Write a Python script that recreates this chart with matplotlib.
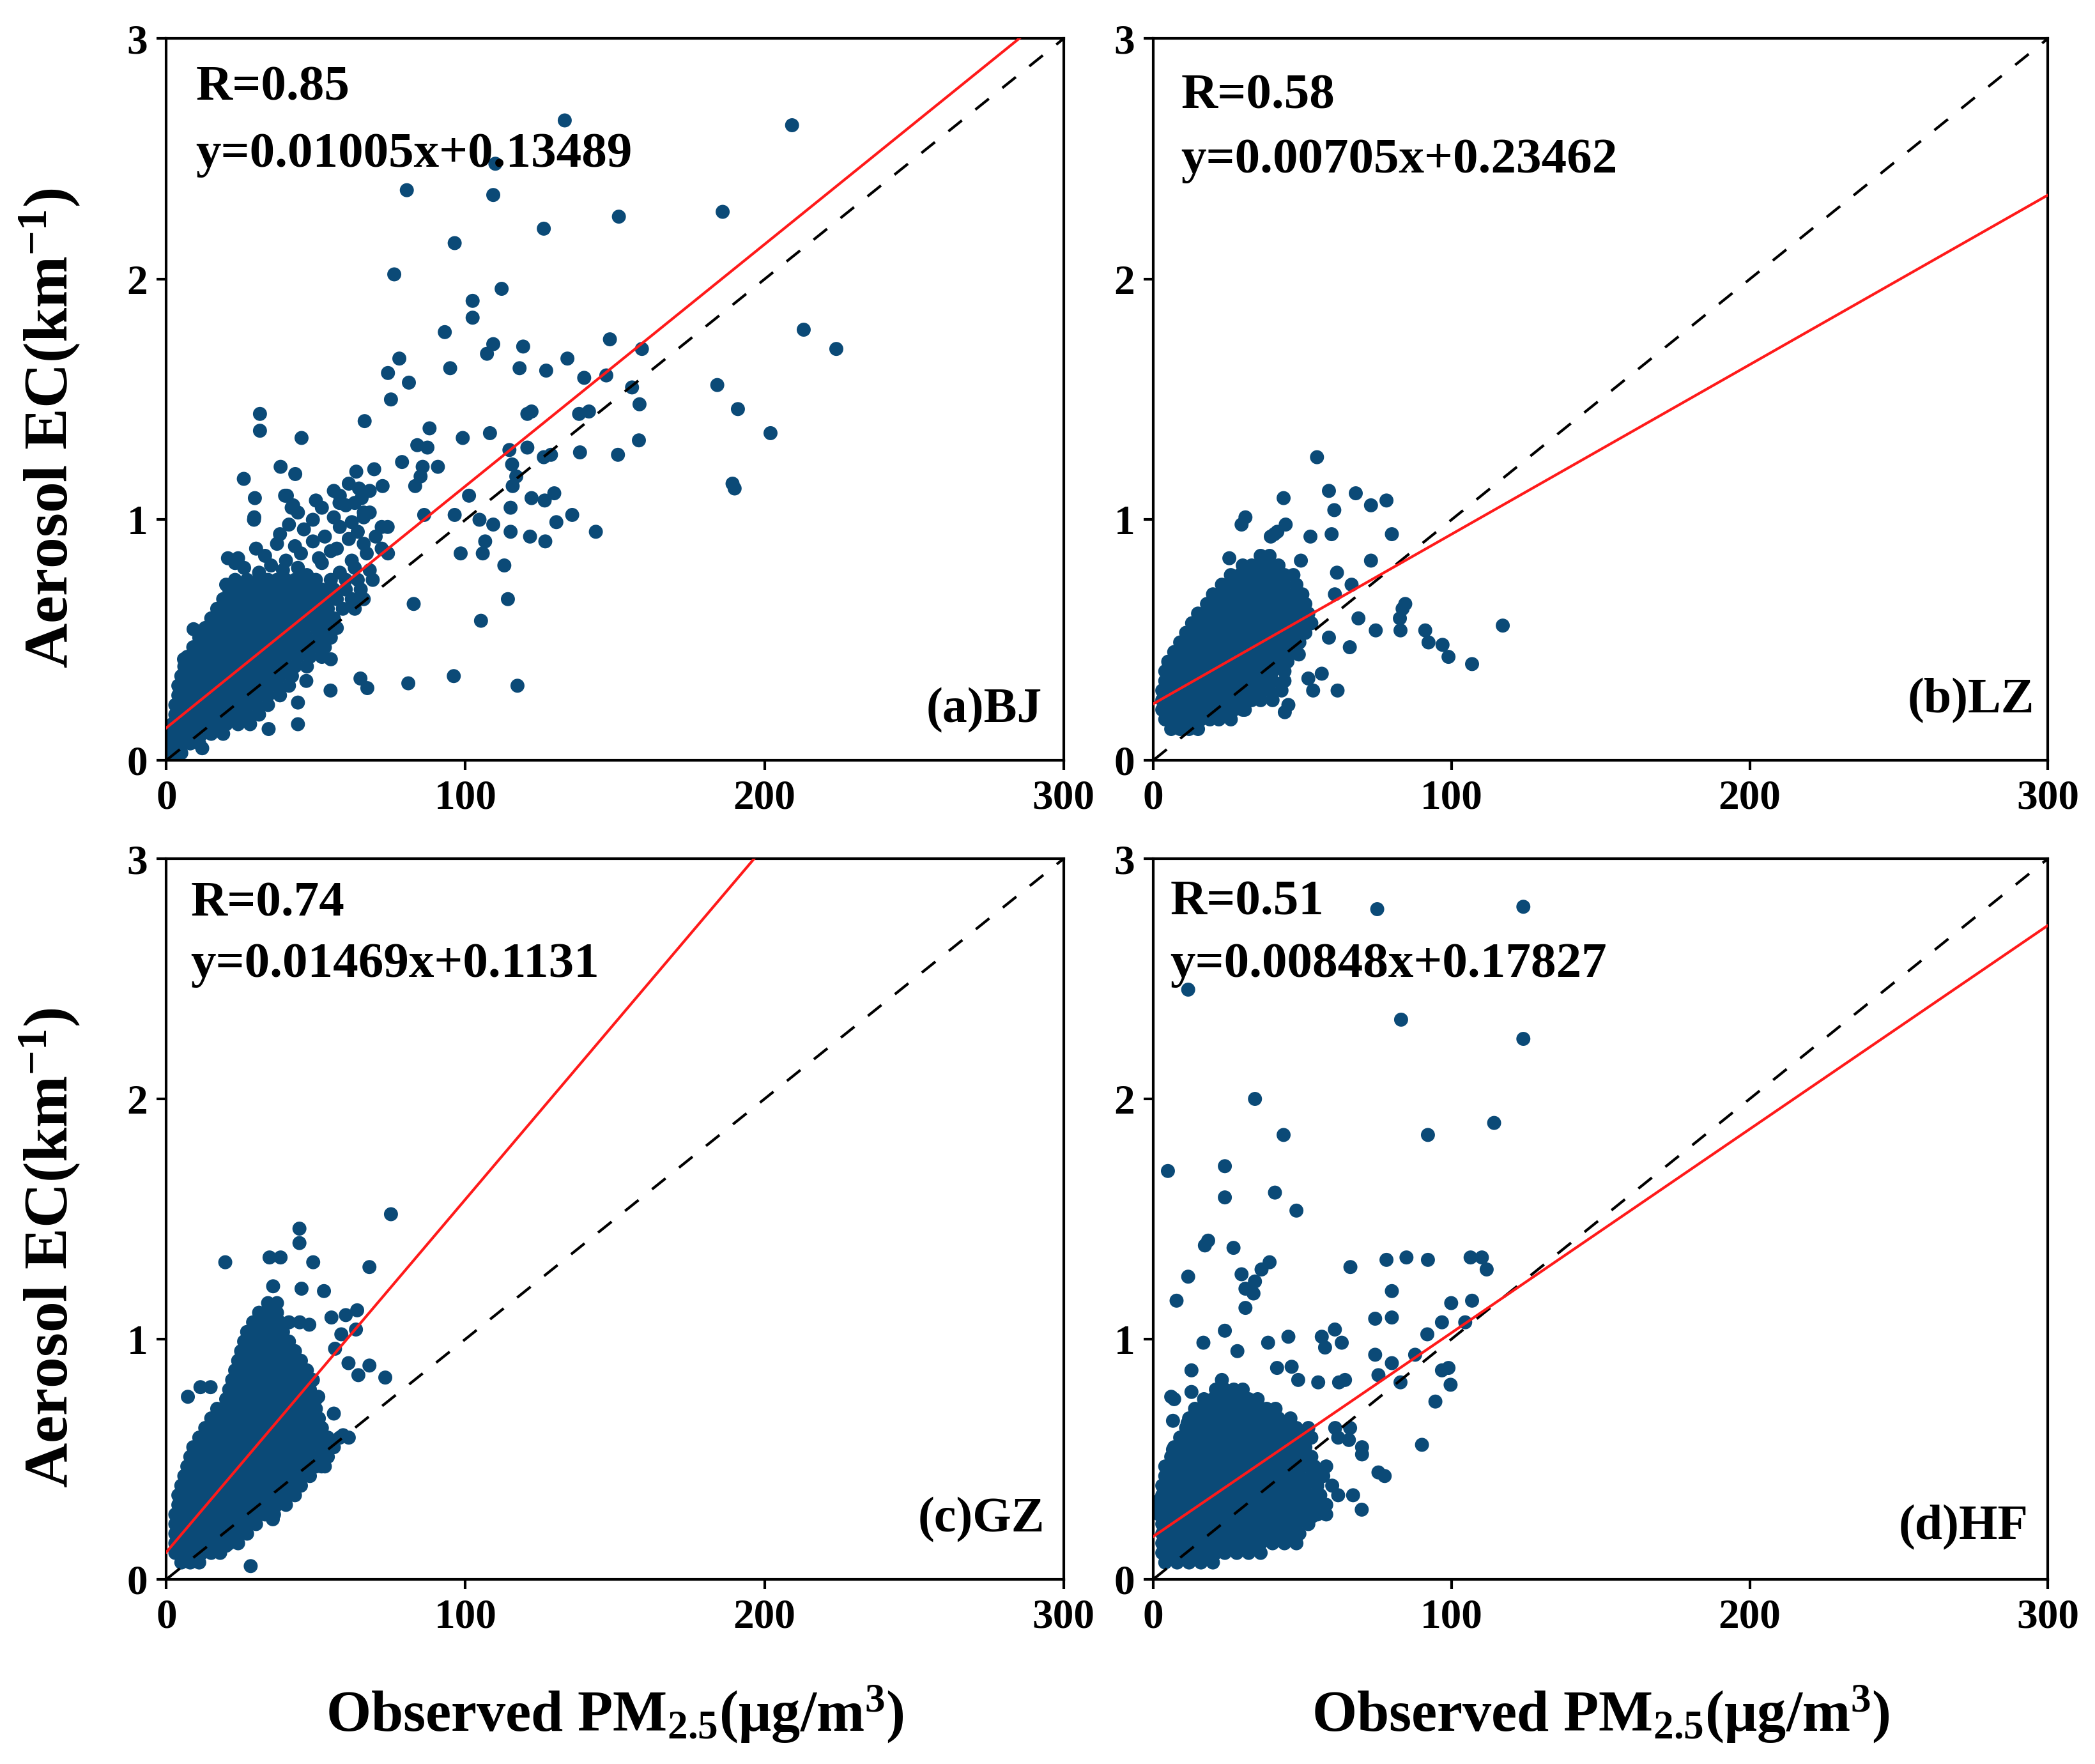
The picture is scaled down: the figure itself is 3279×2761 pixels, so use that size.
import matplotlib
matplotlib.use("Agg")
import matplotlib.pyplot as plt

plt.rcParams['font.family'] = ['Liberation Serif', 'DejaVu Serif']
plt.rcParams['font.weight'] = 'bold'
plt.rcParams['mathtext.fontset'] = 'custom'
plt.rcParams['mathtext.rm'] = 'Liberation Serif:bold'
plt.rcParams['mathtext.it'] = 'Liberation Serif:bold'
plt.rcParams['mathtext.bf'] = 'Liberation Serif:bold'

# ---------------- data ----------------
sites = ["(a)BJ", "(b)LZ", "(c)GZ", "(d)HF"]
r_vals = ["0.85", "0.58", "0.74", "0.51"]
slopes = [0.01005, 0.00705, 0.01469, 0.00848]
intercepts = [0.13489, 0.23462, 0.1131, 0.17827]
eq_txt = ["y=0.01005x+0.13489", "y=0.00705x+0.23462",
          "y=0.01469x+0.1131", "y=0.00848x+0.17827"]

# dense cloud of each site: (EC value, [PM2.5 values])
bj_rows = [
    (0.03, [1, 3, 5]),
    (0.07, [1, 3, 5, 8, 11]),
    (0.11, [2, 4, 6, 9, 12, 15, 19]),
    (0.15, [2, 5, 8, 11, 14, 17, 20, 24, 28]),
    (0.19, [3, 6, 9, 12, 15, 18, 21, 24, 27, 31]),
    (0.23, [3, 6, 9, 12, 15, 18, 21, 24, 27, 30, 34]),
    (0.27, [4, 7, 10, 13, 16, 19, 22, 25, 28, 31, 34, 38]),
    (0.31, [4, 7, 10, 13, 16, 19, 22, 25, 28, 31, 34, 37, 41]),
    (0.35, [5, 8, 11, 14, 17, 20, 23, 26, 29, 32, 35, 38, 42]),
    (0.39, [6, 9, 12, 15, 18, 21, 24, 27, 30, 33, 36, 39, 43, 47]),
    (0.43, [7, 10, 13, 16, 19, 22, 25, 28, 31, 34, 37, 40, 44, 48, 52]),
    (0.47, [9, 12, 15, 18, 21, 24, 27, 30, 33, 36, 39, 42, 45, 49, 53]),
    (0.51, [11, 14, 17, 20, 23, 26, 29, 32, 35, 38, 41, 44, 47, 51, 55]),
    (0.55, [13, 16, 19, 22, 25, 28, 31, 34, 37, 40, 43, 46, 50, 54, 57]),
    (0.59, [15, 18, 21, 24, 27, 30, 33, 36, 39, 42, 45, 48, 52, 56]),
    (0.63, [17, 20, 23, 26, 29, 32, 35, 38, 41, 44, 47, 50, 54, 59, 63]),
    (0.67, [19, 22, 25, 28, 31, 34, 37, 40, 43, 46, 49, 53, 57, 62, 66]),
    (0.71, [21, 24, 27, 30, 33, 36, 39, 42, 45, 48, 52, 56, 60, 65]),
    (0.75, [23, 27, 31, 34, 37, 40, 43, 46, 50, 55, 60, 64, 69]),
]
bj_out = [
    (133.2, 2.66), (209.2, 2.64), (110.0, 2.48), (80.4, 2.37), (109.3, 2.35),
    (186.0, 2.28), (151.3, 2.26), (126.2, 2.21), (96.4, 2.15), (76.2, 2.02),
    (112.1, 1.96), (102.4, 1.91), (102.4, 1.84), (213.1, 1.79), (93.1, 1.78),
    (148.3, 1.75), (109.3, 1.73), (224.0, 1.71), (119.3, 1.72), (107.2, 1.69),
    (159.0, 1.71), (77.9, 1.67), (134.1, 1.67), (94.9, 1.63), (118.1, 1.63),
    (127.0, 1.62), (74.1, 1.61), (139.7, 1.59), (147.1, 1.60), (184.2, 1.56),
    (81.1, 1.57), (155.7, 1.55), (75.1, 1.50), (158.2, 1.48), (122.1, 1.45),
    (120.7, 1.44), (141.3, 1.45), (191.1, 1.46), (138.0, 1.44), (31.3, 1.44),
    (66.3, 1.41), (31.3, 1.37), (88.0, 1.38), (202.0, 1.36), (108.2, 1.36),
    (45.2, 1.34), (99.1, 1.34), (158.0, 1.33), (83.9, 1.31), (87.3, 1.30),
    (120.7, 1.30), (114.7, 1.29), (138.3, 1.28), (151.0, 1.27), (128.6, 1.27),
    (126.2, 1.26), (78.8, 1.24), (115.6, 1.23), (69.5, 1.21), (38.2, 1.22),
    (85.7, 1.22), (90.8, 1.22), (63.5, 1.20), (43.1, 1.19), (85.0, 1.18),
    (25.9, 1.17), (117.0, 1.18), (189.3, 1.15), (190.0, 1.13), (83.2, 1.14),
    (115.8, 1.14), (64.4, 1.13), (72.3, 1.14), (40.3, 1.10), (101.2, 1.10),
    (29.6, 1.09), (129.7, 1.11), (65.3, 1.09), (57.9, 1.07), (122.1, 1.09),
    (126.5, 1.08), (42.4, 1.06), (115.1, 1.05), (66.0, 1.03), (96.4, 1.02),
    (135.7, 1.02), (29.4, 1.01), (104.7, 1.00), (109.3, 0.98), (130.4, 0.99),
    (86.2, 1.02), (143.6, 0.95), (115.1, 0.95), (121.6, 0.93), (126.7, 0.91),
    (106.6, 0.91), (98.4, 0.86), (105.8, 0.86), (113.0, 0.81), (74.1, 0.86),
    (114.2, 0.67), (82.7, 0.65), (105.2, 0.58), (80.9, 0.32), (96.1, 0.35),
    (117.4, 0.31), (64.9, 0.34), (67.2, 0.30), (54.9, 0.29), (44.0, 0.15),
    (12.0, 0.05), (20.6, 0.84), (23.0, 0.82), (20.0, 0.73), (17.3, 0.61),
    (9.1, 0.545), (5.9, 0.42), (55.0, 0.42), (46.8, 0.33), (44.0, 0.24),
    (34.2, 0.13), (72.0, 0.97), (39.7, 1.10), (41.9, 1.05), (29.3, 1.00),
    (26, 0.80), (31, 0.78), (35, 0.81), (39, 0.79), (44, 0.80), (47, 0.77),
    (52, 0.82), (58, 0.78), (63, 0.80), (68, 0.79), (24, 0.84), (33, 0.85),
    (40, 0.83), (45, 0.86), (51, 0.84), (57, 0.88), (62, 0.83), (67, 0.86),
    (30, 0.88), (37, 0.90), (43, 0.89), (49, 0.91), (55, 0.87), (61, 0.92),
    (66, 0.90), (72, 0.88), (38, 0.94), (46, 0.96), (53, 0.93), (58, 0.97),
    (64, 0.95), (70, 0.93), (41, 0.98), (49, 1.00), (56, 1.01), (62, 0.99),
    (68, 1.03), (74, 0.97), (44, 1.03), (52, 1.05), (60, 1.06), (66, 1.01),
    (50, 1.08), (58, 1.10), (63, 1.07), (68, 1.12), (56, 1.12), (61, 1.15),
]

lz_rows = [
    (0.13, [6, 9, 12, 15]),
    (0.17, [4, 7, 10, 13, 16, 19, 22, 26]),
    (0.21, [3, 6, 9, 12, 15, 18, 21, 24, 27, 30]),
    (0.25, [3, 6, 9, 12, 15, 18, 21, 24, 27, 30, 33, 36, 40]),
    (0.29, [3, 6, 9, 12, 15, 18, 21, 24, 27, 30, 33, 36, 39, 43]),
    (0.33, [4, 7, 10, 13, 16, 19, 22, 25, 28, 31, 34, 37, 40, 44]),
    (0.37, [4, 7, 10, 13, 16, 19, 22, 25, 28, 31, 34, 37, 40, 44]),
    (0.41, [5, 8, 11, 14, 17, 20, 23, 26, 29, 32, 35, 38, 41, 45]),
    (0.45, [7, 10, 13, 16, 19, 22, 25, 28, 31, 34, 37, 40, 43, 47]),
    (0.49, [9, 12, 15, 18, 21, 24, 27, 30, 33, 36, 39, 42, 45, 49]),
    (0.53, [11, 14, 17, 20, 23, 26, 29, 32, 35, 38, 41, 44, 47, 51]),
    (0.57, [13, 16, 19, 22, 25, 28, 31, 34, 37, 40, 43, 46, 50, 53]),
    (0.61, [15, 18, 21, 24, 27, 30, 33, 36, 39, 42, 45, 48, 52]),
    (0.65, [18, 21, 24, 27, 30, 33, 36, 39, 42, 45, 48, 51]),
    (0.69, [20, 23, 26, 29, 32, 35, 38, 41, 44, 47, 50]),
    (0.73, [23, 26, 29, 32, 35, 38, 41, 44, 48]),
    (0.77, [26, 29, 32, 35, 38, 41, 44, 47]),
    (0.81, [30, 33, 36, 39, 42]),
    (0.85, [36, 39]),
]
lz_out = [
    (54.9, 1.26), (58.9, 1.12), (67.9, 1.11), (43.7, 1.09), (73.0, 1.06),
    (78.2, 1.08), (60.7, 1.04), (29.6, 0.98), (30.9, 1.01), (44.4, 0.98),
    (40.6, 0.94), (52.7, 0.93), (59.8, 0.94), (80.0, 0.94), (49.5, 0.83),
    (25.5, 0.84), (73.0, 0.83), (61.6, 0.78), (66.5, 0.73), (60.9, 0.69),
    (84.5, 0.65), (83.6, 0.63), (82.7, 0.59), (68.8, 0.59), (74.6, 0.54),
    (82.9, 0.54), (91.2, 0.54), (92.3, 0.49), (97.0, 0.48), (99.0, 0.43),
    (106.9, 0.40), (117.2, 0.56), (58.9, 0.51), (65.9, 0.47), (48.8, 0.44),
    (52.0, 0.34), (56.5, 0.36), (53.6, 0.29), (61.8, 0.29), (45.3, 0.23),
    (44.1, 0.20), (30.7, 0.21), (39.4, 0.93), (41.6, 0.95),
]

gz_rows = [
    (0.07, [5, 8, 11]),
    (0.11, [3, 6, 9, 12, 15, 18]),
    (0.15, [3, 6, 9, 12, 15, 18, 21, 24]),
    (0.19, [3, 6, 9, 12, 15, 18, 21, 24, 27]),
    (0.23, [3, 6, 9, 12, 15, 18, 21, 24, 27, 30]),
    (0.27, [3, 6, 9, 12, 15, 18, 21, 24, 27, 30, 33, 36]),
    (0.31, [4, 7, 10, 13, 16, 19, 22, 25, 28, 31, 34, 37, 40]),
    (0.35, [4, 7, 10, 13, 16, 19, 22, 25, 28, 31, 34, 37, 40, 43]),
    (0.39, [5, 8, 11, 14, 17, 20, 23, 26, 29, 32, 35, 38, 41, 45]),
    (0.43, [6, 9, 12, 15, 18, 21, 24, 27, 30, 33, 36, 39, 42, 45, 48]),
    (0.47, [7, 10, 13, 16, 19, 22, 25, 28, 31, 34, 37, 40, 43, 46, 50, 53]),
    (0.51, [8, 11, 14, 17, 20, 23, 26, 29, 32, 35, 38, 41, 44, 47, 51, 54]),
    (0.55, [9, 12, 15, 18, 21, 24, 27, 30, 33, 36, 39, 42, 45, 48, 52, 56]),
    (0.59, [11, 14, 17, 20, 23, 26, 29, 32, 35, 38, 41, 44, 47, 50, 54, 58, 61]),
    (0.63, [13, 16, 19, 22, 25, 28, 31, 34, 37, 40, 43, 46, 49, 52]),
    (0.67, [15, 18, 21, 24, 27, 30, 33, 36, 39, 42, 45, 48, 51]),
    (0.71, [17, 20, 23, 26, 29, 32, 35, 38, 41, 44, 47, 50]),
    (0.75, [20, 23, 26, 29, 32, 35, 38, 41, 44, 47, 50]),
    (0.79, [21, 24, 27, 30, 33, 36, 39, 42, 45, 48]),
    (0.83, [22, 25, 28, 31, 34, 37, 40, 43, 46, 49]),
    (0.87, [23, 26, 29, 32, 35, 38, 41, 44, 47]),
    (0.91, [24, 27, 30, 33, 36, 39, 42, 45]),
    (0.95, [25, 28, 31, 34, 37, 40, 43]),
    (0.99, [26, 29, 32, 35, 38, 41]),
    (1.03, [27, 30, 33, 36, 39]),
    (1.07, [29, 32, 35, 38, 41]),
    (1.11, [31, 34, 37]),
    (1.15, [34, 37]),
]
gz_out = [
    (75.1, 1.52), (44.5, 1.46), (44.5, 1.40), (34.5, 1.34), (38.2, 1.34),
    (19.7, 1.32), (49.1, 1.32), (67.9, 1.30), (35.7, 1.22), (45.2, 1.21),
    (52.7, 1.20), (44.6, 1.07), (47.8, 1.06), (55.2, 1.09), (60.0, 1.10),
    (63.8, 1.12), (58.5, 1.02), (63.4, 1.04), (56.4, 0.96), (60.9, 0.90),
    (64.2, 0.85), (67.9, 0.89), (73.2, 0.84), (56.0, 0.69), (51.9, 0.47),
    (35.6, 0.25), (20.0, 0.14), (28.2, 0.055), (11.4, 0.80), (14.8, 0.80),
    (7.2, 0.76), (59.1, 0.60), (8.1, 0.105), (50.8, 0.76),
]

hf_rows = [
    (0.07, [4, 8, 12, 16, 20]),
    (0.11, [3, 6, 9, 12, 15, 18, 21, 24, 28, 32, 36]),
    (0.15, [3, 6, 9, 12, 15, 18, 21, 24, 27, 30, 33, 36, 40, 44, 48]),
    (0.19, [3, 6, 9, 12, 15, 18, 21, 24, 27, 30, 33, 36, 39, 42, 45, 49]),
    (0.23, [3, 6, 9, 12, 15, 18, 21, 24, 27, 30, 33, 36, 39, 42, 45, 48, 52]),
    (0.27, [2, 5, 8, 11, 14, 17, 20, 23, 26, 29, 32, 35, 38, 41, 44, 47, 51, 55, 58]),
    (0.31, [2, 5, 8, 11, 14, 17, 20, 23, 26, 29, 32, 35, 38, 41, 44, 47, 50, 54, 58]),
    (0.35, [3, 6, 9, 12, 15, 18, 21, 24, 27, 30, 33, 36, 39, 42, 45, 48, 52, 56, 62, 67]),
    (0.39, [3, 6, 9, 12, 15, 18, 21, 24, 27, 30, 33, 36, 39, 42, 45, 48, 51, 55, 60]),
    (0.43, [4, 7, 10, 13, 16, 19, 22, 25, 28, 31, 34, 37, 40, 43, 46, 49, 53, 57]),
    (0.47, [4, 7, 10, 13, 16, 19, 22, 25, 28, 31, 34, 37, 40, 43, 46, 50, 54, 58]),
    (0.51, [6, 9, 12, 15, 18, 21, 24, 27, 30, 33, 36, 39, 42, 45, 49, 53]),
    (0.55, [7, 10, 13, 16, 19, 22, 25, 28, 31, 34, 37, 40, 43, 47, 51]),
    (0.59, [9, 12, 15, 18, 21, 24, 27, 30, 33, 36, 39, 42, 45, 49, 53, 62]),
    (0.63, [11, 14, 17, 20, 23, 26, 29, 32, 35, 38, 41, 44, 48, 52, 61, 66]),
    (0.67, [12, 15, 18, 21, 24, 27, 30, 33, 36, 39, 42, 46]),
    (0.71, [14, 17, 20, 23, 26, 29, 32, 35, 38, 41]),
    (0.75, [7, 17, 20, 23, 26, 29, 32, 35]),
    (0.79, [21, 24, 27, 30]),
    (0.83, [23]),
]
hf_out = [
    (75.1, 2.79), (124.1, 2.80), (11.7, 2.455), (83.1, 2.33), (124.1, 2.25),
    (34.1, 2.00), (114.3, 1.90), (43.7, 1.85), (92.1, 1.85), (4.9, 1.70),
    (24.0, 1.72), (24.0, 1.59), (40.8, 1.61), (48.0, 1.535), (18.4, 1.41),
    (17.3, 1.39), (26.9, 1.38), (39.0, 1.32), (66.1, 1.30), (78.2, 1.33),
    (84.9, 1.34), (92.1, 1.33), (106.4, 1.34), (110.2, 1.34), (111.8, 1.29),
    (11.7, 1.26), (29.6, 1.27), (36.3, 1.29), (34.1, 1.24), (30.9, 1.21),
    (33.6, 1.19), (80.0, 1.20), (7.8, 1.16), (30.9, 1.13), (99.9, 1.15),
    (106.9, 1.16), (74.4, 1.085), (80.0, 1.09), (24.0, 1.035), (91.9, 1.02),
    (16.8, 0.985), (45.3, 1.01), (56.5, 1.01), (60.9, 1.04), (96.8, 1.07),
    (104.6, 1.07), (28.2, 0.95), (38.5, 0.985), (57.6, 0.965), (87.8, 0.935),
    (74.4, 0.935), (80.0, 0.90), (99.0, 0.88), (96.8, 0.87), (12.8, 0.87),
    (82.9, 0.82), (99.7, 0.81), (75.5, 0.85), (94.6, 0.74), (90.1, 0.56),
    (75.5, 0.445), (69.9, 0.29), (53.1, 0.26), (2.2, 0.33), (64.3, 0.83),
    (62.3, 0.82), (48.6, 0.83), (55.3, 0.82), (41.5, 0.88), (46.4, 0.885),
    (63.2, 0.985), (6.0, 0.76), (12.8, 0.78), (77.6, 0.43), (70.0, 0.55),
    (70.0, 0.52), (65.6, 0.58), (6.6, 0.66), (11.5, 0.65), (6.6, 0.54),
]

all_rows = [bj_rows, lz_rows, gz_rows, hf_rows]
all_out = [bj_out, lz_out, gz_out, hf_out]

# ---------------- figure ----------------
fig = plt.figure(figsize=(32.79, 27.61), dpi=100)
boxes = [
    [0.0794, 0.5690, 0.4283, 0.4091],
    [0.5505, 0.5690, 0.4270, 0.4091],
    [0.0794, 0.1047, 0.4283, 0.4085],
    [0.5505, 0.1047, 0.4270, 0.4085],
]
r_pos = [(0.033, 0.931), (0.031, 0.920), (0.027, 0.937), (0.019, 0.939)]
eq_pos = [(0.033, 0.839), (0.031, 0.831), (0.027, 0.852), (0.019, 0.852)]
lab_pos = [(0.976, 0.069), (0.985, 0.083), (0.979, 0.083), (0.978, 0.072)]

dot_col = '#0b4a77'
line_x = [0, 300]

for i in range(4):
    ax = fig.add_axes(boxes[i])
    xs = [x for y, row in all_rows[i] for x in row] + [p[0] for p in all_out[i]]
    ys = [y for y, row in all_rows[i] for x in row] + [p[1] for p in all_out[i]]
    ax.scatter(xs, ys, s=250, c=dot_col, edgecolors='none', zorder=2)

    ax.plot(line_x, [v / 100.0 for v in line_x], color='black', lw=3,
            linestyle=(0, (6.5, 6.5)), zorder=3)
    ax.plot(line_x, [slopes[i] * v + intercepts[i] for v in line_x],
            color='#ff1a1a', lw=3, zorder=4)

    ax.set_xlim(0, 300)
    ax.set_ylim(0, 3)
    ax.set_xticks([0, 100, 200, 300])
    ax.set_yticks([0, 1, 2, 3])
    ax.tick_params(direction='out', length=11, width=3, labelsize=47, pad=10)
    for lb in ax.get_xticklabels() + ax.get_yticklabels():
        lb.set_fontweight('bold')
    for sp in ax.spines.values():
        sp.set_linewidth(3)

    ax.text(r_pos[i][0], r_pos[i][1], "R=" + r_vals[i], transform=ax.transAxes,
            fontsize=57, fontweight='bold', ha='left', va='center')
    ax.text(eq_pos[i][0], eq_pos[i][1], eq_txt[i], transform=ax.transAxes,
            fontsize=57, fontweight='bold', ha='left', va='center')
    ax.text(lab_pos[i][0], lab_pos[i][1], sites[i], transform=ax.transAxes,
            fontsize=56, fontweight='bold', ha='right', va='center')

    if i % 2 == 0:
        ax.set_ylabel(r'Aerosol EC(km$^{-1}$)', fontsize=70, fontweight='bold')
        ax.yaxis.set_label_coords(-0.094, 0.46)
    if i >= 2:
        ax.set_xlabel(r'Observed PM$_{2.5}$(μg/m$^{3}$)', fontsize=65,
                      fontweight='bold')
        ax.xaxis.set_label_coords(0.5, -0.145)

fig.savefig("out.png", dpi=100)
